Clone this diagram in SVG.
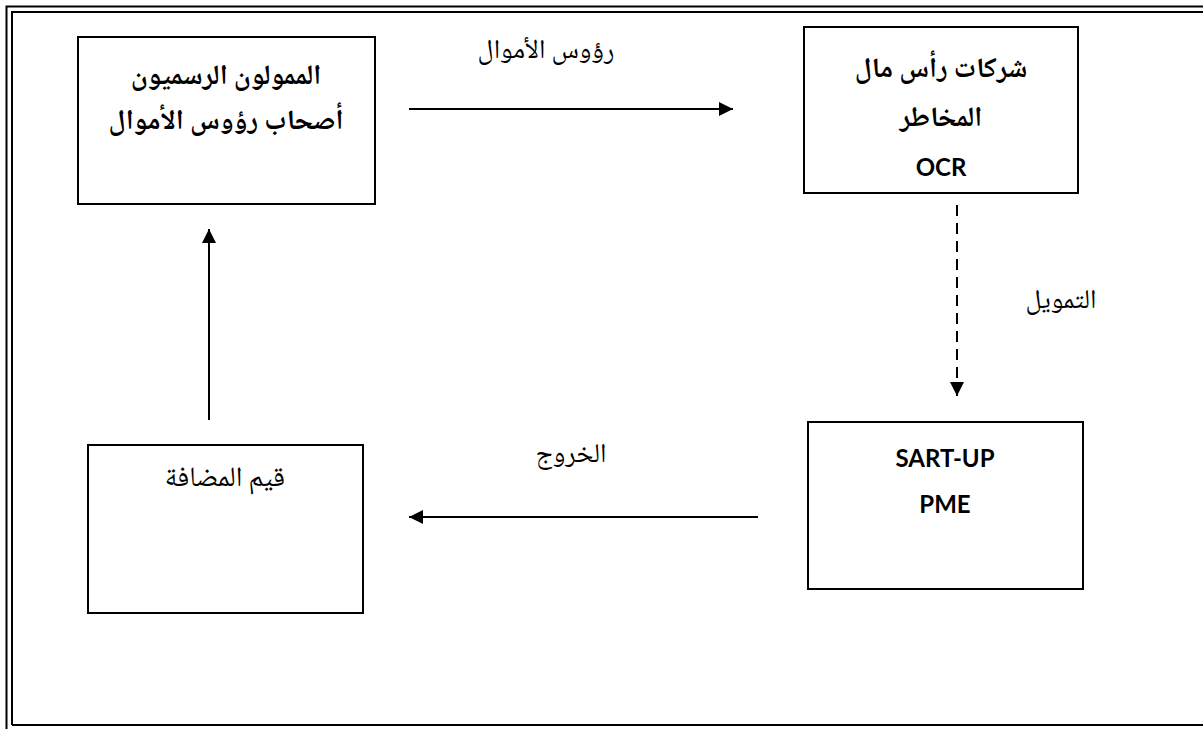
<svg xmlns="http://www.w3.org/2000/svg" width="1203" height="729" viewBox="0 0 1203 729">
<style>
.frame{fill:none;stroke:#000;stroke-width:2}
.box{fill:#fff;stroke:#000;stroke-width:2}
.ar{font-family:"Noto Naskh Arabic","Noto Sans Arabic","DejaVu Sans",sans-serif;text-anchor:middle;fill:#000}
.bold{font-weight:bold;font-size:28px}
.reg{font-size:28px}
.lbl{font-size:27px}
.lat{font-family:Lato,"Open Sans",sans-serif;font-weight:bold;font-size:24px;text-anchor:middle;fill:#000}
.ln{stroke:#000;stroke-width:2;fill:none}
</style>
<defs>
<marker id="ah" viewBox="0 0 10 10" refX="10" refY="5" markerWidth="7.5" markerHeight="7" markerUnits="strokeWidth" orient="auto">
<path d="M0,0 L10,5 L0,10 z" fill="#000"/>
</marker>
</defs>
<rect width="1203" height="729" fill="#fff"/>
<g id="frame">
<path class="frame" d="M6.5,729 V6.5 H1203"/>
<path class="frame" d="M12,725 V12 H1203 M12,725 H1203"/>
</g>
<g id="connectors">
<line class="ln" x1="409" y1="109" x2="733" y2="109" marker-end="url(#ah)"/>
<line class="ln" x1="957" y1="205" x2="957" y2="396" stroke-dasharray="11,7" marker-end="url(#ah)"/>
<line class="ln" x1="758" y1="517" x2="409" y2="517" marker-end="url(#ah)"/>
<line class="ln" x1="209" y1="420" x2="209" y2="229" marker-end="url(#ah)"/>
<text class="ar lbl" x="546" y="58">رؤوس الأموال</text>
<text class="ar lbl" x="1061" y="308">التمويل</text>
<text class="ar lbl" x="571" y="462">الخروج</text>
</g>
<g id="n1">
<rect class="box" x="78" y="37" width="297" height="167"/>
<text class="ar bold" x="226" y="84">الممولون الرسميون</text>
<text class="ar bold" x="226" y="129">أصحاب رؤوس الأموال</text>
</g>
<g id="n2">
<rect class="box" x="804" y="27" width="274" height="166"/>
<text class="ar bold" x="941" y="77">شركات رأس مال</text>
<text class="ar bold" x="941" y="126">المخاطر</text>
<text class="lat" x="941" y="176">OCR</text>
</g>
<g id="n3">
<rect class="box" x="808" y="422" width="275" height="167"/>
<text class="lat" x="945" y="467">SART-UP</text>
<text class="lat" x="945" y="513">PME</text>
</g>
<g id="n4">
<rect class="box" x="88" y="445" width="275" height="168"/>
<text class="ar reg" x="225" y="486">قيم المضافة</text>
</g>
</svg>
